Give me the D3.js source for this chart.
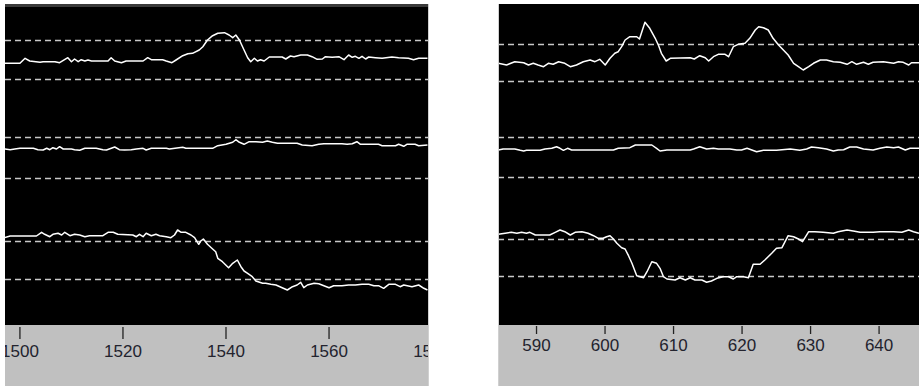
<!DOCTYPE html>
<html>
<head>
<meta charset="utf-8">
<script src="https://cdn.jsdelivr.net/npm/d3@7"></script>
<style>
  body { margin: 0; background: #fff; }
  svg { display: block; }
  .tick text { font-family: "Liberation Sans", Arial, sans-serif; font-size: 17px; fill: #23232e; }
</style>
</head>
<body>
<script>
const width = 919;
const height = 386;

// x domains (sample index axis) of the two views
const leftDomain = [1497.2, 1579.5];
const rightDomain = [584.45, 645.9];

const leftTicks = [1500, 1520, 1540, 1560, 1580];
const rightTicks = [590, 600, 610, 620, 630, 640];

// threshold (dashed) levels, two per channel
const leftLevels = [285, 246, 187.5, 146.7, 84.5, 46.2];
const rightLevels = [281.3, 244.3, 187.5, 148.3, 86.3, 48.7];

// left view traces [x, level]
const leftCh1 = [[1497.1,261.7],[1500.1,261.7],[1501.1,266.7],[1502.0,264],[1504.0,262.7],[1504.6,263.3],[1506.9,263.3],[1507.8,262.3],[1509.4,267.3],[1510.1,263.3],[1510.7,266],[1511.4,263.3],[1512.0,265.3],[1512.7,264],[1513.3,265],[1514.0,264],[1517.2,264],[1517.8,267.3],[1518.5,264],[1519.8,262.3],[1520.7,264],[1524.0,264],[1524.9,267.3],[1525.6,265.3],[1527.8,265.3],[1528.5,264],[1529.6,262.3],[1530.4,265],[1531.7,269.3],[1532.7,271.3],[1533.6,271.7],[1534.9,275],[1535.6,278.3],[1536.5,285],[1537.5,289.3],[1538.5,291.7],[1539.8,292.3],[1540.7,290],[1541.4,287.3],[1542.0,290],[1542.7,285],[1543.6,275],[1544.3,267.3],[1544.9,263.3],[1545.6,266.7],[1546.2,264],[1546.8,265.3],[1547.5,264],[1548.5,268],[1551.0,268],[1551.7,266],[1552.6,269],[1553.3,268.3],[1554.6,270],[1555.9,270],[1556.8,268.3],[1557.8,265.7],[1558.8,266],[1559.4,268.3],[1560.7,267.7],[1562.0,268.3],[1563.0,265.3],[1563.9,270],[1564.6,267.7],[1565.2,268.7],[1565.9,266.7],[1566.5,268.7],[1567.2,266],[1567.8,268],[1569.1,267.3],[1570.4,266.7],[1572.3,268],[1573.6,267.3],[1575.5,266.7],[1576.5,265.3],[1577.5,266.7],[1579.2,266.7]];
const leftCh2 = [[1497.1,176],[1498.2,175.3],[1499.1,176],[1500.1,176.7],[1502.7,176.7],[1503.6,175.3],[1504.6,175],[1505.3,176.7],[1505.9,175.3],[1506.5,177.3],[1507.2,176],[1507.8,178.3],[1508.5,176],[1510.1,176],[1510.7,175.3],[1511.7,174.7],[1512.7,176.7],[1514.9,176.7],[1516.2,175.3],[1516.9,175],[1518.5,178],[1519.4,175.3],[1520.4,175],[1521.7,175.3],[1522.7,176],[1524.0,176.7],[1524.6,175],[1525.6,176.7],[1528.5,176.7],[1529.1,176],[1531.7,177.7],[1532.3,176.7],[1537.5,176.7],[1538.5,179.3],[1540.1,180.7],[1541.4,182.7],[1542.0,185.3],[1542.7,182.7],[1543.6,180.7],[1544.6,183.3],[1545.9,183.3],[1547.2,182.7],[1548.1,184],[1549.1,182.7],[1550.1,181.7],[1553.9,181.7],[1554.9,180],[1556.8,179.3],[1558.1,180.7],[1559.1,181.3],[1562.6,181.3],[1563.6,180.7],[1564.6,181.3],[1565.5,183.3],[1566.2,180.7],[1569.7,180.7],[1570.4,179.3],[1573.0,179.3],[1573.6,180.7],[1574.6,178.7],[1575.2,180.7],[1576.8,180.7],[1577.5,179.3],[1579.2,180]];
const leftCh3 = [[1497.1,87.3],[1498.2,89],[1503.3,89],[1504.3,92.7],[1504.9,90.7],[1505.9,88.3],[1506.5,90.7],[1507.5,91.7],[1508.2,90],[1508.8,92.7],[1509.8,89.3],[1510.7,90.7],[1511.7,90],[1512.7,88.3],[1513.6,89.3],[1516.2,89.3],[1517.2,92.7],[1518.2,92.7],[1519.1,90.7],[1522.0,90],[1522.7,88.3],[1523.3,90.7],[1524.0,88.3],[1524.6,91.7],[1525.6,89.3],[1526.5,90.7],[1527.2,89.3],[1528.5,88.3],[1529.4,87.3],[1530.1,90],[1530.7,95],[1531.4,92.7],[1532.3,92.7],[1533.3,90],[1534.0,87.3],[1534.8,80.7],[1535.2,84],[1535.7,86],[1536.5,80.7],[1537.5,76],[1538.1,73.3],[1538.5,66.7],[1539.4,63.3],[1540.6,57.3],[1541.4,61.7],[1542.3,65],[1543.0,58.3],[1543.6,54],[1544.3,51.7],[1545.2,48.3],[1545.9,44],[1547.2,41.7],[1547.8,41.7],[1548.8,40.7],[1549.8,40],[1551.0,37.3],[1552.0,35],[1553.0,38.3],[1553.9,40],[1554.6,42.7],[1555.2,37.3],[1555.9,40],[1557.2,41.7],[1558.1,41.3],[1559.1,39.3],[1560.1,37.3],[1561.0,39.3],[1562.6,39.3],[1563.9,40],[1565.2,40],[1566.5,40.7],[1567.8,40.7],[1568.8,39.3],[1569.7,39.3],[1570.7,36.7],[1571.7,40.7],[1573.0,40.7],[1573.9,38.3],[1574.6,40],[1576.2,38.3],[1577.5,40],[1578.5,36.7],[1579.2,35]];

// right view traces [x, level]
const rightCh1 = [[584.5,261.7],[585.7,260],[586.9,263.3],[588.2,262.3],[588.9,260],[589.6,261.7],[590.3,260],[591.1,258.3],[591.8,261.7],[592.5,260.7],[593.3,263.3],[594.2,261.7],[595.0,258.3],[595.9,260],[596.9,263.3],[597.9,265],[598.6,263.3],[599.3,265.7],[600.1,260],[600.8,266.7],[601.5,271.7],[602.0,273.3],[602.5,278.3],[603.0,285],[603.7,288.3],[604.7,288.3],[605.1,286],[605.9,302.7],[606.6,296.7],[607.4,286.7],[607.9,279.3],[608.3,271.7],[609.0,264],[609.6,266.7],[612.5,267.3],[613.1,266],[613.9,269.3],[614.7,267.3],[615.2,264],[615.9,268.3],[616.6,270.7],[617.6,270.7],[618.1,268.3],[618.8,278.3],[619.5,280.7],[620.5,281.7],[621.2,286.7],[622.0,295],[622.5,298.3],[623.2,297.3],[623.9,295],[624.6,286.7],[625.4,280],[626.1,275],[626.8,270],[627.6,261.7],[628.3,258.3],[629.0,255],[629.8,258.3],[630.5,261.7],[631.5,265],[632.4,265],[633.4,263.3],[634.4,262.7],[635.4,260.7],[636.1,263.3],[636.8,260.7],[637.8,262.7],[638.5,260.7],[639.2,262.7],[640.7,263.3],[642.2,261.7],[642.9,263.3],[643.6,262.7],[644.4,260],[644.8,262.3],[645.9,262.3]];
const rightCh2 = [[584.5,175],[585.2,176],[586.9,176],[587.7,174.7],[588.2,174],[588.6,174.7],[590.6,174.7],[591.3,176],[592.3,176.7],[593.0,178.3],[593.5,176.7],[594.0,174.7],[594.6,176.7],[595.2,175],[601.3,175],[602.0,176.7],[603.7,177.3],[604.5,180],[606.9,180],[607.6,176.7],[608.1,174],[609.1,175],[612.5,175],[613.0,176],[613.9,178.3],[614.9,176],[615.9,176.7],[616.6,176],[618.3,176],[619.3,175],[620.0,175],[620.8,176.7],[621.5,175],[622.2,173.3],[623.2,174.7],[625.1,174.7],[627.1,176],[628.5,174.7],[629.5,176],[630.2,178],[631.2,177.3],[632.4,176],[633.4,174],[634.1,175],[634.9,175.3],[635.8,178],[636.8,178],[637.8,176],[639.2,175],[640.2,176.7],[641.2,178],[642.2,177.3],[642.9,178],[643.9,175],[644.6,176.7],[645.9,176.7]];
const rightCh3 = [[584.5,90.7],[585.5,91.7],[586.4,92.7],[587.2,91.7],[587.9,92.7],[588.6,91.7],[589.1,92.7],[589.9,90],[592.0,90],[592.8,92.7],[593.5,95],[594.2,93.3],[595.0,90],[595.7,92.7],[596.7,93.3],[597.6,91.7],[598.4,89.3],[599.1,86.7],[599.8,86.7],[600.3,88.3],[600.8,89.3],[601.3,86],[601.8,81.7],[602.5,77.3],[603.0,76],[603.5,69.3],[604.0,61.7],[604.7,49.3],[605.2,48.3],[605.7,47.3],[606.2,53.3],[606.9,63.3],[607.6,61.7],[608.1,56.7],[608.6,48.3],[609.1,46],[610.3,45],[611.0,47.3],[611.8,45],[612.5,47.3],[613.2,45],[614.2,45],[614.9,42.7],[615.6,44],[616.4,46.7],[617.3,48.3],[618.1,48.3],[618.8,46],[619.3,48.3],[620.3,48.3],[621.0,47.3],[621.7,60.7],[622.7,60.7],[623.4,65],[624.4,71.7],[625.1,76.7],[625.9,77.3],[626.8,89.3],[627.6,88.3],[628.3,86],[628.9,83.3],[629.8,93.3],[630.7,93.3],[631.9,92.7],[633.4,91.7],[634.1,93.3],[635.4,95],[636.3,94],[637.3,92.7],[639.2,92.7],[640.2,93.3],[642.2,93.3],[643.4,92.7],[644.4,95],[645.1,93.3],[645.9,91.7]];

const svg = d3.select('body').append('svg')
    .attr('width', width)
    .attr('height', height);

const plotTop = 4;
const plotBottom = 325;

// level axis shared by both views
const yScale = d3.scaleLinear().domain([0, 321]).range([plotBottom, plotTop]);

const panels = [
    { id: 'left', x0: 5, x1: 429, domain: leftDomain, ticks: leftTicks, levels: leftLevels,
      traces: [leftCh1, leftCh2, leftCh3], axisY: 327, tickLen: 12, tickPad: 6, topBand: true },
    { id: 'right', x0: 498, x1: 919, domain: rightDomain, ticks: rightTicks, levels: rightLevels,
      traces: [rightCh1, rightCh2, rightCh3], axisY: 326, tickLen: 8, tickPad: 5, topBand: false }
];

const defs = svg.append('defs');

panels.forEach(p => {
    const xScale = d3.scaleLinear().domain(p.domain).range([p.x0, p.x1]);

    defs.append('clipPath').attr('id', 'clip-' + p.id)
        .append('rect')
        .attr('x', p.x0).attr('y', plotTop)
        .attr('width', p.x1 - p.x0).attr('height', height - plotTop);

    const g = svg.append('g').classed('panel-' + p.id, true)
        .attr('clip-path', `url(#clip-${p.id})`);

    // axis strip
    g.append('rect')
        .attr('x', p.x0).attr('y', plotBottom)
        .attr('width', p.x1 - p.x0).attr('height', height - plotBottom)
        .attr('fill', '#c0c0c0');

    // plot background
    g.append('rect')
        .attr('x', p.x0).attr('y', plotTop)
        .attr('width', p.x1 - p.x0).attr('height', plotBottom - plotTop)
        .attr('fill', '#000');

    if (p.topBand) {
        g.append('rect')
            .attr('x', p.x0).attr('y', plotTop)
            .attr('width', p.x1 - p.x0).attr('height', 3)
            .attr('fill', '#3a3a3a');
    }

    // dashed thresholds
    g.append('g').selectAll('line')
        .data(p.levels)
        .enter().append('line')
        .attr('x1', p.x0).attr('x2', p.x1)
        .attr('y1', d => Math.round(yScale(d)) + 0.5)
        .attr('y2', d => Math.round(yScale(d)) + 0.5)
        .attr('stroke', '#c8c8c8')
        .attr('stroke-width', 1.7)
        .attr('stroke-dasharray', '6,4');

    const line = d3.line()
        .x(d => xScale(d[0]))
        .y(d => yScale(d[1]));

    g.append('g').selectAll('path')
        .data(p.traces)
        .enter().append('path')
        .attr('d', line)
        .attr('fill', 'none')
        .attr('stroke', '#fff')
        .attr('stroke-width', 1.5)
        .attr('stroke-linejoin', 'round');

    const axis = d3.axisBottom(xScale)
        .tickValues(p.ticks)
        .tickFormat(d3.format('d'))
        .tickSize(p.tickLen)
        .tickPadding(p.tickPad);

    const ax = g.append('g')
        .attr('transform', `translate(0,${p.axisY})`)
        .call(axis);
    ax.select('.domain').remove();
    ax.selectAll('.tick line').attr('stroke', '#222').attr('stroke-width', 1.3);
    ax.selectAll('.tick text').attr('font-size', null).attr('font-family', null);

    // panel edge
    const edgeX = p.id === 'left' ? p.x1 - 0.5 : p.x0 + 0.5;
    svg.append('line')
        .attr('x1', edgeX).attr('x2', edgeX)
        .attr('y1', plotTop).attr('y2', height)
        .attr('stroke', '#d0d0d0')
        .attr('stroke-width', 1);
});
</script>
</body>
</html>
